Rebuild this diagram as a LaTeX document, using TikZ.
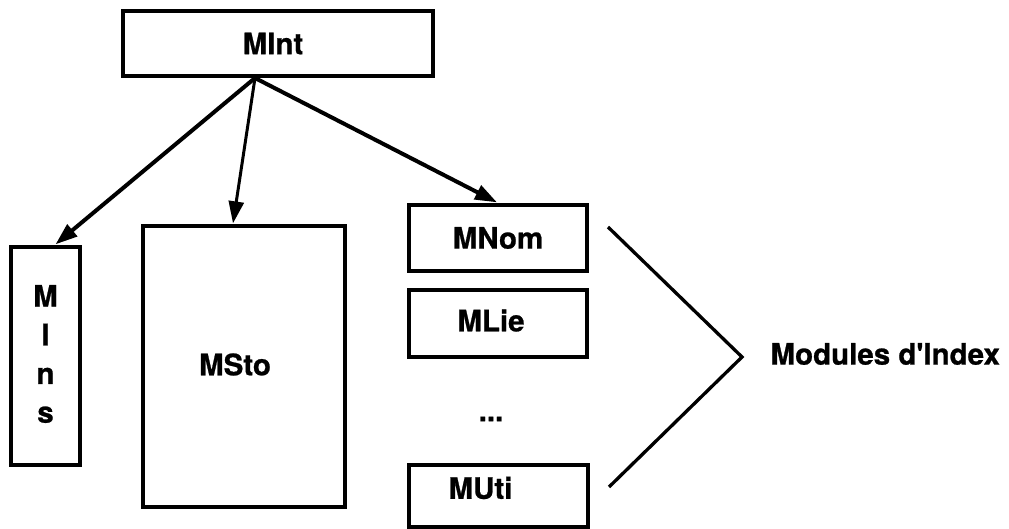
\documentclass[tikz,border=0pt]{standalone}
\usepackage{fontspec}
\setmainfont{TeX Gyre Heros}[Ligatures=TeXOff, BoldFeatures={FakeBold=0.8}]
\usetikzlibrary{arrows.meta,calc}

\tikzset{
  modbox/.style={draw=black, line width=3.3pt, inner sep=0pt, fill=white},
  boxtext/.style={font=\fontsize{29.5}{34}\selectfont\bfseries},
  link/.style={line width=4pt, -{Triangle[length=22pt,width=15pt]}},
  brace/.style={line width=3.3pt, line join=miter}
}

\begin{document}
\begin{tikzpicture}[x=1pt,y=-1pt]
  \useasboundingbox (0,0) rectangle (1009,529);

  % interface module at the top
  \node[modbox, minimum width=310pt, minimum height=65pt,
        label={[boxtext,xshift=-5pt]center:MInt}] (mint) at (278,43.5) {};
  \coordinate (hub) at (255,78);

  % lower modules
  \node[modbox, minimum width=69pt, minimum height=218pt,
        label={[boxtext,align=center,font=\fontsize{29.5}{38.7}\selectfont\bfseries,yshift=2pt]center:M\\I\\n\\s}] (mins) at (45.5,356) {};
  \node[modbox, minimum width=202pt, minimum height=281pt,
        label={[boxtext,xshift=-9pt,yshift=2pt]center:MSto}] (msto) at (244,366.5) {};

  % index modules
  \node[modbox, minimum width=178pt, minimum height=66pt,
        label={[boxtext]center:MNom}] (mnom) at (498,238) {};
  \node[modbox, minimum width=178pt, minimum height=67pt,
        label={[boxtext,xshift=-7pt,yshift=3pt]center:MLie}] (mlie) at (498,323.5) {};
  \node[boxtext] (dots) at (491,419) {...};
  \node[modbox, minimum width=179pt, minimum height=62pt,
        label={[boxtext,xshift=-18pt,yshift=8pt]center:MUti}] (muti) at (498.5,496) {};

  % arrows from the interface module
  \draw[link] (hub) -- ($(mins.north)+(10,-1)$);
  \draw[link, line width=3pt] (hub) -- ($(msto.north)+(-11,-1)$);
  \draw[link] (hub) -- ($(mnom.north)+(-1,-1)$);

  % bracket grouping the index modules
  \coordinate (btop) at (608,227);
  \coordinate (bapex) at (742,357);
  \coordinate (bbot) at (609,487);
  \draw[brace] (btop) -- (bapex) -- (bbot);
  \node[boxtext, anchor=west] (idx) at (767,354) {Modules d'Index};
\end{tikzpicture}
\end{document}
